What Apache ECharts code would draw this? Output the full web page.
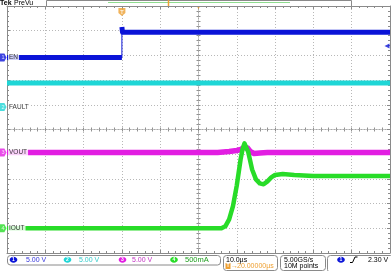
<!DOCTYPE html>
<html><head><meta charset="utf-8">
<script src="https://cdn.jsdelivr.net/npm/echarts@6/dist/echarts.min.js"></script>
<style>html,body{margin:0;padding:0;background:#fff}#c{width:391px;height:271px}</style>
</head><body><div id="c"></div>
<script>
// ---- data (time in µs relative to trigger) ----
const ch1Time = [-30, 0, 0, 0.15, 70];
const ch1Volt = [0, 0, 6.15, 5.1, 5.1];
const ch2Time = [-30, 70];
const ch2Volt = [4.85, 4.85];
const ch3Time = [-30, 25, 28, 30, 31, 31.8, 32.3, 32.8, 33.5, 34.5, 36, 38, 70];
const ch3Volt = [0, 0, 0.2, 0.4, 0.6, 1.0, 1.2, 0.9, 0.2, -0.2, -0.1, 0, 0];
const ch4Time = [-30, 26, 27, 28, 29, 30, 31, 31.5, 32, 32.5, 33, 34, 35, 36, 37, 38, 39, 40, 42, 45, 50, 70];
const ch4Amp  = [0, 0, 0.04, 0.18, 0.45, 0.87, 1.40, 1.60, 1.72, 1.70, 1.54, 1.19, 0.99, 0.91, 0.89, 0.95, 1.03, 1.08, 1.10, 1.08, 1.06, 1.06];
const chNames = ['EN', 'FAULT', 'VOUT', 'IOUT'];
const chScaleText = ['5.00 V', '5.00 V', '5.00 V', '500mA'];
const timeTicks = [-30, -20, -10, 0, 10, 20, 30, 40, 50, 60, 70];
const trigLevel = 2.30;
const timebaseText = '10.0µs';
const delayText = '20.00000µs';
const sampleText = ['5.00GS/s', '10M points'];

// ---- scope settings ----
const chPerDiv = [5, 5, 5, 0.5];
const chPos = [2.92, 0.91, -0.93, -4.0];
const chColor = ['#0b14d8', '#1fd6d6', '#e21ee2', '#28dc28'];
const chWidth = [5, 5, 5.5, 4.5];
const chTextColor = ['#3434dc', '#34cccc', '#c232c2', '#22a022'];
const ORANGE = '#eea032';
const FONT = 'Liberation Sans, Arial, sans-serif';
const TAG = 'path://M0 0L7 0L10 5L7 10L0 10Z';
const TRIG = 'path://M0 0L10 0L10 7L5 11L0 7Z';

function toXY(ts, vs, k) {
  return ts.map((t, i) => [t, chPos[k] + vs[i] / chPerDiv[k]]);
}
function thick(ts, vs, k) {
  const out = [];
  ts.forEach((t, i) => {
    if (i > 0 && t === ts[i - 1]) out.push([t, '-']);
    out.push([t, chPos[k] + vs[i] / chPerDiv[k]]);
  });
  return out;
}
const waves = [[ch1Time, ch1Volt], [ch2Time, ch2Volt], [ch3Time, ch3Volt], [ch4Time, ch4Amp]];

const border = {color: '#8a8a8a', width: 1};
const dotted = {color: '#b8b8b8', width: 1, type: [1, 2]};
function xAx(pos, opts) {
  return Object.assign({type: 'value', min: -30, max: 70, interval: 10, position: pos,
    axisLabel: {show: false}, axisLine: {show: true, onZero: false, lineStyle: border},
    axisTick: {show: true, inside: true, length: 3, lineStyle: border},
    minorTick: {show: true, splitNumber: 5, length: 2, lineStyle: border},
    splitLine: {show: false}}, opts || {});
}
function yAx(pos, opts) {
  return Object.assign({type: 'value', min: -5, max: 5, interval: 1, position: pos,
    axisLabel: {show: false}, axisLine: {show: true, onZero: false, lineStyle: border},
    axisTick: {show: true, inside: true, length: 3, lineStyle: border},
    minorTick: {show: true, splitNumber: 5, length: 2, lineStyle: border},
    splitLine: {show: false}}, opts || {});
}
const centerX = (pos) => ({type: 'value', min: -50, max: 50, interval: 10, position: pos,
  axisLabel: {show: false},
  axisLine: {show: true, onZero: true, onZeroAxisIndex: 0, lineStyle: {color: '#a8a8a8', width: 1, type: [1, 2]}},
  axisTick: {show: true, inside: false, length: 2, lineStyle: {color: '#909090'}},
  minorTick: {show: true, splitNumber: 5, length: 2, lineStyle: {color: '#909090'}},
  splitLine: {show: false}});
const centerY = (pos) => ({type: 'value', min: -5, max: 5, interval: 1, position: pos,
  axisLabel: {show: false},
  axisLine: {show: true, onZero: true, onZeroAxisIndex: 2, lineStyle: {color: '#a8a8a8', width: 1, type: [1, 2]}},
  axisTick: {show: true, inside: false, length: 2, lineStyle: {color: '#909090'}},
  minorTick: {show: true, splitNumber: 5, length: 2, lineStyle: {color: '#909090'}},
  splitLine: {show: false}});

const series = [];
waves.forEach((w, k) => {
  series.push({type: 'line', data: thick(w[0], w[1], k), symbol: 'none', z: 3,
    lineStyle: {color: chColor[k], width: chWidth[k], cap: 'butt', join: 'round'}, silent: true});
  series.push({type: 'line', data: toXY(w[0], w[1], k), symbol: 'none', z: 3,
    lineStyle: {color: chColor[k], width: 1}, silent: true});
});
// channel ground markers
series.push({type: 'scatter', z: 10, silent: true,
  data: chNames.map((n, k) => ({value: [-30, chPos[k]], symbol: TAG, symbolSize: [7, 8], symbolOffset: [-4, 0],
    itemStyle: {color: chColor[k]}, label: {formatter: String(k + 1)}})),
  label: {show: true, position: 'inside', color: '#fff', fontSize: 5.5, fontFamily: FONT}});
// channel names
series.push({type: 'scatter', z: 11, silent: true,
  data: chNames.map((n, k) => ({value: [-30, chPos[k]], name: n})),
  symbolSize: 0.01,
  label: {show: true, position: 'right', distance: 1, formatter: '{b}', color: '#000', fontSize: 6.5,
    fontFamily: FONT, backgroundColor: '#fff', padding: [1, 1, 0, 1]}});
// trigger position marker, expansion point, trigger level
series.push({type: 'scatter', z: 12, silent: true,
  data: [{value: [timeTicks[3], 5], symbol: TRIG, symbolSize: [7, 8], symbolOffset: [0, 6],
          itemStyle: {color: ORANGE}, label: {show: true, formatter: 'T', position: 'inside', color: '#fff', fontSize: 5.5, fontWeight: 'bold'}},
         {value: [timeTicks[5], 5], symbol: 'triangle', symbolRotate: 180, symbolSize: [5, 4], symbolOffset: [0, 1], itemStyle: {color: ORANGE}},
         {value: [timeTicks[10], chPos[0] + trigLevel / chPerDiv[0]], symbol: 'triangle', symbolRotate: 90, symbolSize: [5, 5], symbolOffset: [-3, 0], itemStyle: {color: chColor[0]}}]});

// ---- UI chrome (header + status bar) ----
const g = [];
const txt = (x, y, s, fill, extra) => g.push(Object.assign({type: 'text', x: x, y: y, z: 20,
  style: {text: s, fill: fill, font: '7px ' + FONT, verticalAlign: 'middle'}}, extra || {}));
txt(0, 3.5, 'Tek', '#000', {style: {text: 'Tek', fill: '#000', font: 'bold 7px ' + FONT, verticalAlign: 'middle'}});
txt(14, 3.5, 'PreVu', '#000');
g.push({type: 'rect', z: 19, shape: {x: 46.5, y: 0.5, width: 305, height: 6}, style: {fill: '#fff', stroke: '#8a8a8a'}});
g.push({type: 'line', z: 20, shape: {x1: 108, y1: 2.5, x2: 290, y2: 2.5}, style: {stroke: '#8fdc8f', lineWidth: 1}});
g.push({type: 'line', z: 20, shape: {x1: 168.5, y1: 0, x2: 168.5, y2: 6}, style: {stroke: ORANGE, lineWidth: 1.5}});
const box = (x, y, w, h) => g.push({type: 'rect', z: 19, shape: {x: x, y: y, width: w, height: h, r: 3}, style: {fill: '#fff', stroke: '#8a8a8a'}});
box(7.5, 255.5, 213, 9.5);
box(223.5, 255.5, 54, 15);
box(280.5, 255.5, 45, 15);
box(327.5, 255.5, 66, 17);
const dot = (cx, cy, c, s) => {
  g.push({type: 'ellipse', z: 20, shape: {cx: cx, cy: cy, rx: 3.8, ry: 3}, style: {fill: c}});
  g.push({type: 'text', z: 21, x: cx, y: cy, style: {text: s, fill: '#fff', font: 'bold 5px ' + FONT, align: 'center', verticalAlign: 'middle'}});
};
const dotX = [13.5, 67.5, 122.5, 174];
const txtX = [26, 79, 132, 185];
chScaleText.forEach((s, k) => { dot(dotX[k], 259.8, chColor[k], String(k + 1)); txt(txtX[k], 260, s, chTextColor[k], k === 3 ? {style: {text: s, fill: chTextColor[k], font: '7.5px ' + FONT, verticalAlign: 'middle'}} : null); });
txt(226, 260, timebaseText, '#000');
g.push({type: 'rect', z: 20, shape: {x: 225.5, y: 263, width: 5, height: 6}, style: {fill: ORANGE}});
g.push({type: 'text', z: 21, x: 228, y: 266, style: {text: 'T', fill: '#fff', font: 'bold 5px ' + FONT, align: 'center', verticalAlign: 'middle'}});
txt(231, 266, '→', ORANGE);
txt(237, 266, delayText, ORANGE);
txt(284, 260, sampleText[0], '#000');
txt(284, 266.5, sampleText[1], '#000');
dot(341, 259.8, chColor[0], '1');
g.push({type: 'polyline', z: 20, shape: {points: [[350, 262.5], [352.5, 262.5], [355, 257], [357.5, 257]]}, style: {stroke: '#000', lineWidth: 1, fill: 'none'}});
txt(368, 260, trigLevel.toFixed(2) + ' V', '#000');

const chart = echarts.init(document.getElementById('c'), null, {renderer: 'canvas'});
chart.setOption({
  animation: false,
  backgroundColor: '#fff',
  grid: {left: 7, right: 1, top: 6, bottom: 18, containLabel: false, outerBoundsMode: 'none'},
  xAxis: [
    xAx('bottom', {splitLine: {show: true, lineStyle: dotted}}),
    xAx('top'),
    centerX('bottom'),
    centerX('top')
  ],
  yAxis: [
    yAx('left', {splitLine: {show: true, lineStyle: dotted}}),
    yAx('right'),
    centerY('left'),
    centerY('right')
  ],
  series: series,
  graphic: g
});
</script>
</body></html>
